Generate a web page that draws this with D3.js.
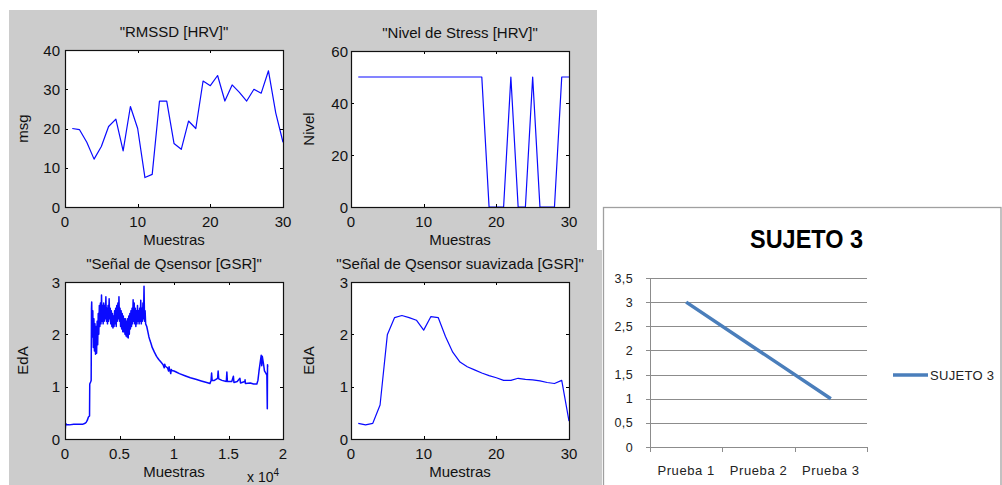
<!DOCTYPE html>
<html>
<head>
<meta charset="utf-8">
<script src="https://cdn.jsdelivr.net/npm/d3@7"></script>
<style>
  html, body { margin: 0; padding: 0; background: #ffffff; }
  svg { display: block; }
  text { font-family: "Liberation Sans", Arial, sans-serif; }
</style>
</head>
<body>
<svg id="chart" width="1002" height="485"></svg>
<script>
// ---------------- DATA ----------------
const muestras = [1,2,3,4,5,6,7,8,9,10,11,12,13,14,15,16,17,18,19,20,21,22,23,24,25,26,27,28,29,30];

const rmssd = [20, 19.7, 16.5, 12.2, 15.4, 20.5, 22.4, 14.3, 25.6, 20, 7.5, 8.3, 27, 27, 16.2,
               14.7, 21.9, 20, 32.1, 30.9, 33.5, 27, 31.1, 29.2, 27, 30, 29, 34.7, 24, 16.5];

const stress = [50,50,50,50,50,50,50,50,50,50,50,50,50,50,50,50,50,50,
                0,0,0,50,0,0,50,0,0,0,50,50];

const gsrSmooth = [0.30,0.27,0.30,0.65,1.99,2.32,2.36,2.32,2.27,2.08,2.34,2.32,1.96,1.66,1.47,
                   1.38,1.32,1.26,1.21,1.17,1.12,1.12,1.16,1.14,1.13,1.11,1.08,1.06,1.12,0.34];

const gsrRawSample = [0,20,60,150,400,800,1200,1600,1850,1950,2050,2150,2250,2270,2350,2400,2430,
  2450,2500,2550,2600,2650,2700,2750,2800,2850,2900,2950,3000,3050,3100,3150,3200,3250,3300,3350,3400,
  3450,3500,3550,3600,3650,3700,3750,3800,3850,3900,3950,4000,4050,4100,4150,4200,4250,4300,4350,4400,
  4450,4500,4550,4600,4650,4700,4750,4800,4850,4900,4950,5000,5050,5100,5150,5200,5250,5300,5350,5400,
  5450,5500,5550,5600,5650,5700,5750,5800,5850,5900,5950,6000,6050,6100,6150,6200,6250,6300,6350,6400,
  6450,6500,6550,6600,6650,6700,6750,6800,6850,6900,6950,7000,7050,7100,7150,7200,7250,7300,7350,7400,
  7500,7600,7700,7800,7900,8000,8200,8400,8600,8800,9000,9100,9150,9200,9400,9500,9550,9600,9700,9750,
  9800,10000,10200,10500,11000,11500,12000,12500,13000,13300,13400,13450,13500,13700,14000,14050,14100,
  14400,14800,14850,14900,15300,15450,15500,15800,16050,16100,16500,16520,16550,17000,17300,17600,17700,
  17800,17900,18000,18050,18100,18200,18300,18450,18520,18560,18580,18600];

const gsrRawValue = [0.43,0.17,0.30,0.27,0.27,0.28,0.28,0.28,0.30,0.32,0.36,0.42,0.44,1.05,1.09,1.12,2.5,
  2.62,1.95,2.45,1.75,2.3,1.68,2.2,1.62,2.15,1.64,2.25,1.8,2.4,2.0,2.55,2.15,2.6,2.2,2.75,2.25,
  2.55,2.2,2.6,2.25,2.55,2.3,2.72,2.25,2.5,2.2,2.55,2.25,2.68,2.3,2.5,2.2,2.45,2.15,2.4,2.12,
  2.35,2.15,2.45,2.2,2.5,2.15,2.55,2.25,2.6,2.3,2.72,2.25,2.5,2.15,2.45,2.1,2.4,2.05,2.35,2.05,
  2.3,2.0,2.3,1.97,2.25,1.95,2.3,1.93,2.35,2.0,2.4,2.1,2.45,2.15,2.5,2.2,2.66,2.25,2.6,2.2,
  2.5,2.15,2.45,2.2,2.55,2.25,2.45,2.2,2.5,2.25,2.65,2.2,2.5,2.25,2.6,2.3,2.92,2.25,2.45,2.2,
  2.15,2.05,1.95,1.88,1.82,1.75,1.66,1.58,1.52,1.47,1.42,1.36,1.43,1.39,1.36,1.3,1.38,1.33,1.25,1.33,
  1.31,1.3,1.28,1.25,1.21,1.17,1.14,1.11,1.08,1.06,1.12,1.26,1.12,1.12,1.16,1.30,1.15,
  1.12,1.1,1.28,1.1,1.1,1.2,1.08,1.1,1.16,1.07,1.1,1.13,1.06,1.07,1.05,1.05,1.12,
  1.3,1.45,1.6,1.4,1.58,1.45,1.3,1.25,1.22,0.58,1.42,1.38];

const excelCategories = ["Prueba 1", "Prueba 2", "Prueba 3"];
const excelValues = [3, 2, 1];
const excelSeriesName = "SUJETO 3";
const excelTitle = "SUJETO 3";
const excelYTicks = [0, 0.5, 1, 1.5, 2, 2.5, 3, 3.5];

// ---------------- DRAW ----------------
const svg = d3.select("#chart");

// MATLAB figure background
svg.append("rect").attr("x", 9).attr("y", 10).attr("width", 588).attr("height", 240).attr("fill", "#cccccc");
svg.append("rect").attr("x", 9).attr("y", 250).attr("width", 593).attr("height", 235).attr("fill", "#cccccc");

const panels = [
  { box:[65,283,50,207], xd:[0,30], yd:[0,40], xt:[0,10,20,30], yt:[0,10,20,30,40],
    title:'"RMSSD [HRV]"', ylab:"msg", xs:muestras, ys:rmssd, fmt:d=>d, ylOff:5, lw:1.2 },
  { box:[351,569,51,207], xd:[0,30], yd:[0,60], xt:[0,10,20,30], yt:[0,20,40,60],
    title:'"Nivel de Stress [HRV]"', ylab:"Nivel", xs:muestras, ys:stress, fmt:d=>d, ylOff:3, lw:1.2 },
  { box:[65,283,282,439], xd:[0,20000], yd:[0,3], xt:[0,5000,10000,15000,20000], yt:[0,1,2,3],
    title:'"Señal de Qsensor [GSR]"', ylab:"EdA", xs:gsrRawSample, ys:gsrRawValue, fmt:d=>String(d/1e4), ylOff:5, exp:true, lw:1.5 },
  { box:[351,569,282,439], xd:[0,30], yd:[0,3], xt:[0,10,20,30], yt:[0,1,2,3],
    title:'"Señal de Qsensor suavizada [GSR]"', ylab:"EdA", xs:muestras, ys:gsrSmooth, fmt:d=>d, ylOff:3, lw:1.2 }
];

panels.forEach(p => {
  const [l, r, t, b] = p.box;
  const x = d3.scaleLinear().domain(p.xd).range([l, r]);
  const y = d3.scaleLinear().domain(p.yd).range([b, t]);
  const g = svg.append("g");
  g.append("rect").attr("x", l).attr("y", t).attr("width", r - l).attr("height", b - t).attr("fill", "#ffffff");

  const clipId = "clip" + l + t;
  g.append("clipPath").attr("id", clipId).append("rect")
    .attr("x", l).attr("y", t - 2).attr("width", r - l + 1).attr("height", b - t + 3);

  const line = d3.line().x((d, i) => x(p.xs[i])).y(d => y(d));
  g.append("path").datum(p.ys).attr("d", line)
    .attr("fill", "none").attr("stroke", "#0a0aff").attr("stroke-width", p.lw)
    .attr("stroke-linejoin", "round").attr("clip-path", `url(#${clipId})`);

  // inner ticks on all sides
  const tl = 3;
  p.xt.forEach(v => {
    const xv = Math.round(x(v)) + 0.5;
    g.append("line").attr("x1", xv).attr("x2", xv).attr("y1", b).attr("y2", b - tl).attr("stroke", "#000");
    g.append("line").attr("x1", xv).attr("x2", xv).attr("y1", t).attr("y2", t + tl).attr("stroke", "#000");
    g.append("text").attr("x", x(v)).attr("y", b + 20).attr("text-anchor", "middle")
      .attr("font-size", 15).attr("fill", "#111").text(p.fmt(v));
  });
  p.yt.forEach(v => {
    const yv = Math.round(y(v)) + 0.5;
    g.append("line").attr("x1", l).attr("x2", l + tl).attr("y1", yv).attr("y2", yv).attr("stroke", "#000");
    g.append("line").attr("x1", r).attr("x2", r - tl).attr("y1", yv).attr("y2", yv).attr("stroke", "#000");
    g.append("text").attr("x", l - p.ylOff).attr("y", y(v) + 5.5).attr("text-anchor", "end")
      .attr("font-size", 15).attr("fill", "#111").text(v);
  });

  g.append("rect").attr("x", l + 0.5).attr("y", t + 0.5).attr("width", r - l).attr("height", b - t)
    .attr("fill", "none").attr("stroke", "#111").attr("stroke-width", 1.2);

  g.append("text").attr("x", (l + r) / 2).attr("y", t - 13).attr("text-anchor", "middle")
    .attr("font-size", 15).attr("fill", "#111").text(p.title);
  g.append("text").attr("x", (l + r) / 2).attr("y", b + 38).attr("text-anchor", "middle")
    .attr("font-size", 15).attr("fill", "#111").text("Muestras");
  g.append("text").attr("transform", `translate(${l - 37},${(t + b) / 2}) rotate(-90)`)
    .attr("text-anchor", "middle").attr("font-size", 15).attr("fill", "#111").text(p.ylab);

  if (p.exp) {
    const et = g.append("text").attr("x", r - 36).attr("y", b + 43).attr("font-size", 14).attr("fill", "#111");
    et.append("tspan").text("x 10");
    et.append("tspan").attr("dy", -6).attr("font-size", 10).text("4");
  }
});

// ---------------- Excel chart ----------------
const ex = svg.append("g");
ex.append("rect").attr("x", 603.5).attr("y", 207.5).attr("width", 397.5).attr("height", 300)
  .attr("fill", "#ffffff").attr("stroke", "#a0a0a0").attr("stroke-width", 1.3);

const exL = 650, exR = 867, exT = 278, exB = 447;
const exX = d3.scaleBand().domain(excelCategories).range([exL, exR]);
const exY = d3.scaleLinear().domain([0, 3.5]).range([exB, exT]);

excelYTicks.forEach(v => {
  const yv = Math.round(exY(v)) + 0.5;
  if (v > 0) {
    ex.append("line").attr("x1", exL).attr("x2", exR).attr("y1", yv).attr("y2", yv)
      .attr("stroke", "#8c8c8c").attr("stroke-width", 1);
  }
  ex.append("line").attr("x1", exL - 4).attr("x2", exL).attr("y1", yv).attr("y2", yv)
    .attr("stroke", "#8c8c8c");
  ex.append("text").attr("x", 633).attr("y", exY(v) + 4.5).attr("text-anchor", "end")
    .attr("font-size", 12.5).attr("letter-spacing", 0.4).attr("fill", "#222")
    .text(String(v).replace(".", ","));
});
ex.append("line").attr("x1", exL + 0.5).attr("x2", exL + 0.5).attr("y1", exT).attr("y2", exB + 4)
  .attr("stroke", "#8c8c8c");
ex.append("line").attr("x1", exL).attr("x2", exR).attr("y1", Math.round(exB) + 0.5).attr("y2", Math.round(exB) + 0.5)
  .attr("stroke", "#8c8c8c");
[exL, ...excelCategories.map(c => exX(c) + exX.bandwidth())].forEach(xv => {
  const xx = Math.round(xv) + 0.5;
  ex.append("line").attr("x1", xx).attr("x2", xx).attr("y1", exB).attr("y2", exB + 5).attr("stroke", "#8c8c8c");
});
excelCategories.forEach(c => {
  ex.append("text").attr("x", exX(c) + exX.bandwidth() / 2).attr("y", 475).attr("text-anchor", "middle")
    .attr("font-size", 13).attr("letter-spacing", 0.6).attr("fill", "#222").text(c);
});

const exLine = d3.line().x((d, i) => exX(excelCategories[i]) + exX.bandwidth() / 2).y(d => exY(d));
ex.append("path").datum(excelValues).attr("d", exLine).attr("fill", "none")
  .attr("stroke", "#4a7ebb").attr("stroke-width", 3.5);

ex.append("text").attr("x", 806.5).attr("y", 248).attr("text-anchor", "middle")
  .attr("font-size", 25).attr("font-weight", "bold").attr("fill", "#000")
  .attr("textLength", 113).attr("lengthAdjust", "spacingAndGlyphs").text(excelTitle);

ex.append("line").attr("x1", 893).attr("x2", 928).attr("y1", 375).attr("y2", 375)
  .attr("stroke", "#4a7ebb").attr("stroke-width", 3.5);
ex.append("text").attr("x", 930).attr("y", 380).attr("font-size", 13).attr("fill", "#222")
  .attr("letter-spacing", 0.3).text(excelSeriesName);
</script>
</body>
</html>
